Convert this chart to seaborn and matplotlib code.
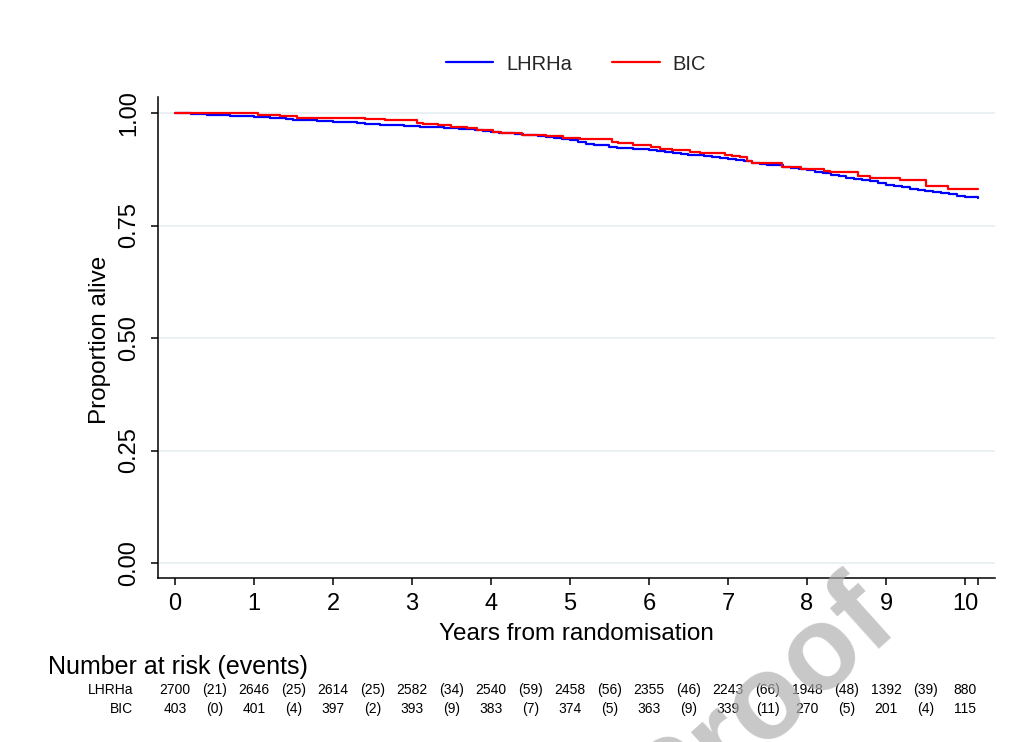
import numpy as np
import pandas as pd
import matplotlib
matplotlib.use("Agg")
import matplotlib.pyplot as plt
from matplotlib.lines import Line2D
from matplotlib.transforms import blended_transform_factory
import seaborn as sns

# ---------------- data ----------------
groups = ["LHRHa", "BIC"]
group_colors = {"LHRHa": "#0000ff", "BIC": "#ff0000"}

lhrha_time = [0.0, 0.1, 0.2, 0.3, 0.4, 0.5, 0.6, 0.7, 0.8, 0.9,
              1.0, 1.1, 1.2, 1.3, 1.4, 1.5, 1.6, 1.7, 1.8, 1.9,
              2.0, 2.1, 2.2, 2.3, 2.4, 2.5, 2.6, 2.7, 2.8, 2.9,
              3.0, 3.1, 3.2, 3.3, 3.4, 3.5, 3.6, 3.7, 3.8, 3.9,
              4.0, 4.1, 4.2, 4.3, 4.4, 4.5, 4.6, 4.7, 4.8, 4.9,
              5.0, 5.1, 5.2, 5.3, 5.4, 5.5, 5.6, 5.7, 5.8, 5.9,
              6.0, 6.1, 6.2, 6.3, 6.4, 6.5, 6.6, 6.7, 6.8, 6.9,
              7.0, 7.1, 7.2, 7.3, 7.4, 7.5, 7.6, 7.7, 7.8, 7.9,
              8.0, 8.1, 8.2, 8.3, 8.4, 8.5, 8.6, 8.7, 8.8, 8.9,
              9.0, 9.1, 9.2, 9.3, 9.4, 9.5, 9.6, 9.7, 9.8, 9.9,
              10.0, 10.17]
lhrha_surv = [1.000, 0.999, 0.998, 0.997, 0.996, 0.9955, 0.995, 0.994, 0.9935, 0.993,
              0.992, 0.991, 0.990, 0.9885, 0.987, 0.9855, 0.984, 0.9835, 0.983, 0.982,
              0.981, 0.980, 0.979, 0.978, 0.9765, 0.975, 0.974, 0.973, 0.9725, 0.9718,
              0.971, 0.970, 0.969, 0.968, 0.9675, 0.966, 0.965, 0.9635, 0.962, 0.960,
              0.958, 0.9565, 0.955, 0.9535, 0.952, 0.9505, 0.949, 0.947, 0.945, 0.9425,
              0.939, 0.9355, 0.932, 0.930, 0.928, 0.9255, 0.923, 0.9215, 0.920, 0.919,
              0.9175, 0.9155, 0.913, 0.911, 0.909, 0.9075, 0.906, 0.9045, 0.903, 0.901,
              0.8985, 0.896, 0.893, 0.890, 0.887, 0.885, 0.8835, 0.881, 0.878, 0.8755,
              0.873, 0.8695, 0.866, 0.863, 0.860, 0.8565, 0.853, 0.8505, 0.848, 0.8445,
              0.841, 0.838, 0.835, 0.832, 0.829, 0.827, 0.825, 0.8225, 0.820, 0.8165,
              0.813, 0.811]

bic_time = [0.00, 1.05, 1.33, 1.54, 2.41, 2.66, 3.06, 3.14, 3.33, 3.50,
            3.69, 3.82, 4.03, 4.13, 4.39, 4.70, 4.91, 5.13, 5.53, 5.61,
            5.80, 6.03, 6.14, 6.29, 6.52, 6.65, 6.96, 7.05, 7.15, 7.24,
            7.30, 7.68, 7.74, 7.93, 8.21, 8.29, 8.65, 8.80, 9.18, 9.51,
            9.79, 10.17]
bic_surv = [1.000, 0.9965, 0.9935, 0.990, 0.9875, 0.985, 0.9785, 0.976, 0.973, 0.970,
            0.967, 0.9625, 0.958, 0.955, 0.952, 0.949, 0.9445, 0.9415, 0.936, 0.933,
            0.930, 0.925, 0.920, 0.9178, 0.914, 0.9105, 0.907, 0.9045, 0.9015, 0.894,
            0.888, 0.881, 0.879, 0.8756, 0.872, 0.8696, 0.8607, 0.856, 0.851, 0.838,
            0.832, 0.832]

risk_years = [0, 1, 2, 3, 4, 5, 6, 7, 8, 9, 10]
lhrha_at_risk = [2700, 2646, 2614, 2582, 2540, 2458, 2355, 2243, 1948, 1392, 880]
lhrha_events = [21, 25, 25, 34, 59, 56, 46, 66, 48, 39]
bic_at_risk = [403, 401, 397, 393, 383, 374, 363, 339, 270, 201, 115]
bic_events = [0, 4, 2, 9, 7, 5, 9, 11, 5, 4]

x_ticks = [0, 1, 2, 3, 4, 5, 6, 7, 8, 9, 10]
max_followup = 10.17
y_ticks = [0.00, 0.25, 0.50, 0.75, 1.00]
y_ticklabels = ["0.00", "0.25", "0.50", "0.75", "1.00"]

x_title = "Years from randomisation"
y_title = "Proportion alive"
risk_title = "Number at risk (events)"
watermark = "Proof"

# ---------------- figure ----------------
sns.set_theme(style="white")
plt.rcParams["font.family"] = ["Liberation Sans", "DejaVu Sans"]

W, H = 1012, 742
fig = plt.figure(figsize=(W / 100, H / 100), dpi=100)
fig.patch.set_facecolor("white")

left_px, right_px, top_px, bottom_px = 158, 995, 97, 578
ax = fig.add_axes([left_px / W, 1 - bottom_px / H,
                   (right_px - left_px) / W, (bottom_px - top_px) / H])

df = pd.concat([
    pd.DataFrame({"time": lhrha_time, "surv": lhrha_surv, "group": "LHRHa"}),
    pd.DataFrame({"time": bic_time, "surv": bic_surv, "group": "BIC"}),
], ignore_index=True)

sns.lineplot(data=df, x="time", y="surv", hue="group", hue_order=groups,
             palette=group_colors, estimator=None, drawstyle="steps-post",
             linewidth=1.6, legend=False, ax=ax, zorder=3)

# scales: x=0 at px 175, 79 px / year; y=0 at px 563, 450 px per unit
ax.set_xlim((left_px - 175) / 79, (right_px - 175) / 79)
ax.set_ylim(-(bottom_px - 563) / 450, 1 + (113 - top_px) / 450)

ax.set_yticks(y_ticks)
ax.set_yticklabels(y_ticklabels, rotation=90, va="center")
ax.set_xticks(x_ticks + [max_followup])
ax.set_xticklabels([str(v) for v in x_ticks] + [""])

ax.yaxis.grid(True, color="#e8f0f2", linewidth=1.3)
ax.xaxis.grid(False)
ax.set_axisbelow(True)

for s in ["top", "right"]:
    ax.spines[s].set_visible(False)
for s in ["left", "bottom"]:
    ax.spines[s].set_color("black")
    ax.spines[s].set_linewidth(1.1)

ax.tick_params(axis="both", which="major", direction="out", length=5,
               width=1.1, color="black", labelsize=17, labelcolor="black")
ax.tick_params(axis="y", pad=8, left=True)
ax.tick_params(axis="x", pad=6, bottom=True)

ax.set_xlabel(x_title, fontsize=17.5, color="black")
ax.set_ylabel(y_title, fontsize=17.5, color="black")
ax.xaxis.set_label_coords(0.5, (bottom_px - 634) / (bottom_px - top_px))
ax.xaxis.label.set_va("center")
ax.yaxis.set_label_coords((100 - left_px) / (right_px - left_px), 0.495)
ax.yaxis.label.set_va("center")

# legend
handles = [Line2D([], [], color=group_colors[g], lw=1.6) for g in groups]
fig.legend(handles, groups, loc="center", bbox_to_anchor=(576 / W, 1 - 64 / H),
           ncol=2, frameon=False, fontsize=14.5, handlelength=2.35,
           handletextpad=0.65, columnspacing=2.0)

# number-at-risk table
tr = blended_transform_factory(ax.transData, fig.transFigure)
fig.text(48 / W, 1 - 667 / H, risk_title, fontsize=18, ha="left", va="center",
         color="black")
rows = [("LHRHa", lhrha_at_risk, lhrha_events, 690),
        ("BIC", bic_at_risk, bic_events, 709)]
for name, at_risk, events, ypx in rows:
    yf = 1 - ypx / H
    fig.text(133 / W, yf, name, fontsize=10, ha="right", va="center", color="black")
    for yr, n in zip(risk_years, at_risk):
        ax.text(yr, yf, str(n), transform=tr, fontsize=10, ha="center",
                va="center", color="black", clip_on=False)
    for yr, e in zip(risk_years[:-1], events):
        ax.text(yr + 0.5, yf, f"({e})", transform=tr, fontsize=10, ha="center",
                va="center", color="black", clip_on=False)

# semi-transparent watermark
fig.text(762 / W, 1 - 705 / H, watermark, fontsize=86, fontweight="bold",
         color="#afafaf", alpha=0.69, rotation=42, rotation_mode="anchor",
         ha="center", va="center", zorder=20)

fig.savefig("out.png", dpi=100, facecolor="white")
